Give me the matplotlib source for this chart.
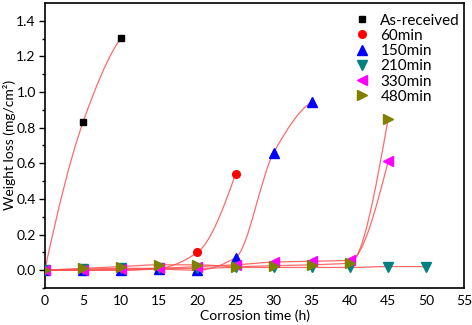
import numpy as np
import matplotlib
matplotlib.use('Agg')
import matplotlib.pyplot as plt
from matplotlib.path import Path
from matplotlib.patches import PathPatch

plt.rcParams['font.family'] = ['Lato', 'DejaVu Sans']

# data
x_asr = [0, 5, 10]
y_asr = [0.0, 0.83, 1.305]
x_60 = [0, 5, 10, 15, 20, 25]
y_60 = [0.0, 0.0, 0.0, 0.01, 0.10, 0.54]
x_150 = [0, 5, 10, 15, 20, 25, 30, 35]
y_150 = [0.0, 0.0, 0.0, 0.005, 0.0, 0.07, 0.66, 0.945]
x_210 = [0, 5, 10, 15, 20, 25, 30, 35, 40, 45, 50]
y_210 = [0.0, 0.005, 0.01, 0.01, 0.01, 0.015, 0.015, 0.015, 0.015, 0.02, 0.02]
x_330 = [0, 5, 10, 15, 20, 25, 30, 35, 40, 45]
y_330 = [0.0, 0.0, 0.005, 0.01, 0.02, 0.03, 0.045, 0.05, 0.055, 0.61]
x_480 = [0, 5, 10, 15, 20, 25, 30, 35, 40, 45]
y_480 = [0.0, 0.01, 0.02, 0.03, 0.03, 0.02, 0.025, 0.03, 0.04, 0.85]

series = [
    ('As-received', x_asr, y_asr, 's', 'black', 5),
    ('60min', x_60, y_60, 'o', 'red', 5.5),
    ('150min', x_150, y_150, '^', 'blue', 6.5),
    ('210min', x_210, y_210, 'v', '#008080', 6.5),
    ('330min', x_330, y_330, '<', 'magenta', 6.5),
    ('480min', x_480, y_480, '>', '#808000', 6.5),
]


def end_slope(h0, h1, d0, d1):
    m = ((2 * h0 + h1) * d0 - h0 * d1) / (h0 + h1)
    if np.sign(m) != np.sign(d0):
        return 0.0
    return m


def smooth_path(xs, ys):
    # monotone cubic hermite segments drawn as bezier curves
    xs = np.asarray(xs, float)
    ys = np.asarray(ys, float)
    h = np.diff(xs)
    d = np.diff(ys) / h
    m = np.zeros_like(ys)
    if len(xs) > 2:
        m[0] = end_slope(h[0], h[1], d[0], d[1])
        m[-1] = end_slope(h[-1], h[-2], d[-1], d[-2])
    else:
        m[0] = m[-1] = d[0]
    for i in range(1, len(xs) - 1):
        if d[i - 1] * d[i] <= 0:
            m[i] = 0
        else:
            m[i] = 2 / (1 / d[i - 1] + 1 / d[i])
    verts = [(xs[0], ys[0])]
    codes = [Path.MOVETO]
    for i in range(len(xs) - 1):
        verts += [(xs[i] + h[i] / 3, ys[i] + m[i] * h[i] / 3),
                  (xs[i + 1] - h[i] / 3, ys[i + 1] - m[i + 1] * h[i] / 3),
                  (xs[i + 1], ys[i + 1])]
        codes += [Path.CURVE4] * 3
    return Path(verts, codes)


fig = plt.figure(figsize=(4.72, 3.25), dpi=100)
ax = fig.add_axes([0.095, 0.114, 0.889, 0.877])

for name, xs, ys, mk, col, ms in series:
    ax.add_patch(PathPatch(smooth_path(xs, ys), facecolor='none',
                           edgecolor='#ff5050', lw=0.9, alpha=0.85, zorder=2))
for name, xs, ys, mk, col, ms in series:
    ax.plot(xs, ys, linestyle='none', marker=mk, color=col, ms=ms,
            label=name, zorder=3)

ax.set_xlim(0, 55)
ax.set_ylim(-0.1, 1.5)
ax.set_xticks(np.arange(0, 56, 5))
ax.set_yticks(np.arange(0, 1.41, 0.2))
ax.set_yticks(np.arange(-0.1, 1.5, 0.1), minor=True)
ax.yaxis.set_major_formatter(plt.FormatStrFormatter('%.1f'))
ax.tick_params(axis='x', length=0, labelsize=10, pad=5)
ax.tick_params(axis='y', which='major', direction='out', length=4, width=1,
               labelsize=10, pad=2.5)
ax.tick_params(axis='y', which='minor', direction='out', length=2.5, width=1)
for s in ax.spines.values():
    s.set_linewidth(1.2)

ax.set_xlabel('Corrosion time (h)', fontsize=10, labelpad=2)
ax.set_ylabel('Weight loss (mg/cm²)', fontsize=10, labelpad=0)

ax.legend(loc='upper right', frameon=False, fontsize=11, handletextpad=0.2,
          labelspacing=0.08, borderaxespad=0.3, bbox_to_anchor=(1.015, 1.0))

fig.savefig('out.png', dpi=100)
